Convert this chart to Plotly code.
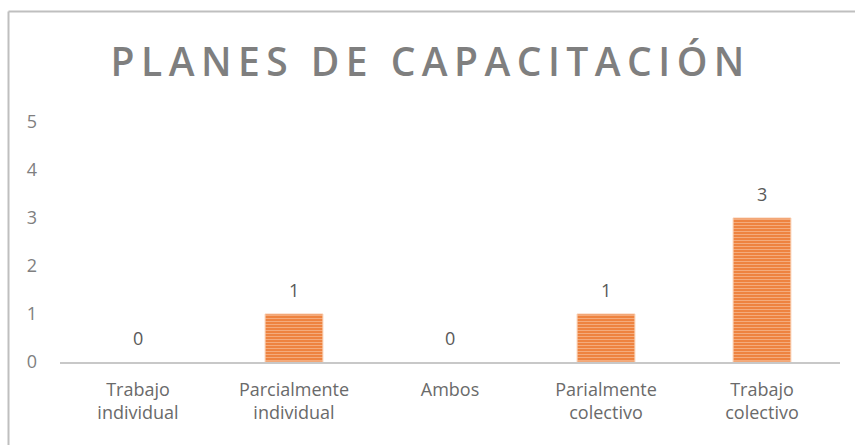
import plotly.graph_objects as go

categories = ["Trabajo<br>individual", "Parcialmente<br>individual", "Ambos",
              "Parialmente<br>colectivo", "Trabajo<br>colectivo"]
values = [0, 1, 0, 1, 3]
y_ticks = [0, 1, 2, 3, 4, 5]
title_text = "PLANES DE CAPACITACIÓN"

W, H = 855, 445
ML, MR, MT, MB = 60, 15, 122, 83
pw, ph = W - ML - MR, H - MT - MB

def px_x(px):
    return (px - ML) / pw

def px_y(py):
    return (H - MB - py) / ph

spaced_title = "\u2009".join(list(title_text))

fig = go.Figure()
fig.add_trace(go.Bar(
    x=categories, y=values, width=0.37,
    marker=dict(
        color="#ED7D31",
        line=dict(color="#F8CBAD", width=[0 if v == 0 else 1 for v in values]),
        pattern=dict(shape="-", fgcolor="#F9D3B8", bgcolor="#EE8340", size=3, solidity=0.35),
    ),
    hoverinfo="skip",
))

for c, v in zip(categories, values):
    fig.add_annotation(x=c, y=v, text=str(v), showarrow=False, yshift=24,
                       font=dict(family="Open Sans", size=18, color="#595959"))

fig.add_shape(type="line", xref="paper", yref="paper",
              x0=px_x(8.5), x1=px_x(8.5), y0=px_y(446), y1=px_y(11.5),
              line=dict(color="#BFBFBF", width=2))
fig.add_shape(type="line", xref="paper", yref="paper",
              x0=px_x(8.5), x1=px_x(856), y0=px_y(11.5), y1=px_y(11.5),
              line=dict(color="#BFBFBF", width=2))

fig.update_layout(
    width=W, height=H,
    margin=dict(l=ML, r=MR, t=MT, b=MB),
    paper_bgcolor="white", plot_bgcolor="white",
    showlegend=False,
    title=dict(text=spaced_title, x=0.5, xref="container", xanchor="center",
               y=1 - 62 / H, yanchor="middle",
               font=dict(family="Open Sans", size=39, color="#7F7F7F", weight=600)),
    xaxis=dict(showline=True, linecolor="#C8C8C8", linewidth=2, ticks="",
               tickfont=dict(family="Open Sans", size=18, color="#6A6A6A"),
               showgrid=False, ticklabelstandoff=10),
    yaxis=dict(range=[0, 5], tickvals=y_ticks, showgrid=False, zeroline=False,
               showline=False, ticks="",
               tickfont=dict(family="Open Sans", size=18, color="#7F7F7F"),
               ticklabelstandoff=22),
)

fig.write_html("out.html")
